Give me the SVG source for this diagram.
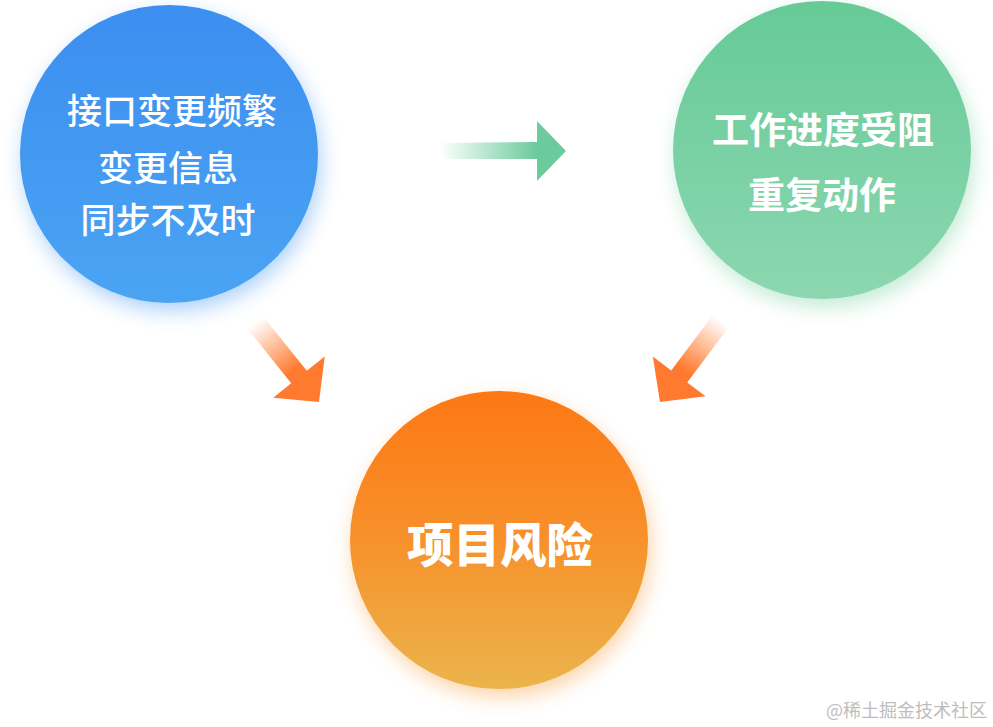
<svg xmlns="http://www.w3.org/2000/svg" width="993" height="727" viewBox="0 0 993 727">
<style>
.t{font-family:"Noto Sans CJK SC","Liberation Sans",sans-serif;fill:#fff;text-anchor:middle}
.b{font-size:35px;font-weight:500}
.g{font-size:37px;font-weight:700}
.o{font-size:46.5px;font-weight:900}
.wm{font-family:"Noto Sans CJK SC",sans-serif;font-size:18px;fill:#bdbdbd}
</style>
<defs>
<linearGradient id="gb" x1="0" y1="0" x2="0" y2="1"><stop offset="0" stop-color="#3c8ef0"/><stop offset="1" stop-color="#4aa4f3"/></linearGradient>
<linearGradient id="gg" x1="0" y1="0" x2="0" y2="1"><stop offset="0" stop-color="#66ca97"/><stop offset="1" stop-color="#8cd7b0"/></linearGradient>
<linearGradient id="go" x1="0" y1="0" x2="0" y2="1"><stop offset="0" stop-color="#fd7814"/><stop offset="0.5" stop-color="#f7912b"/><stop offset="1" stop-color="#ebb44c"/></linearGradient>
<linearGradient id="ag" gradientUnits="userSpaceOnUse" x1="-126" y1="0" x2="-30" y2="0"><stop offset="0" stop-color="#6ccb9c" stop-opacity="0"/><stop offset="1" stop-color="#6ccb9c"/></linearGradient>
<linearGradient id="ao" gradientUnits="userSpaceOnUse" x1="-102" y1="0" x2="-40" y2="0"><stop offset="0" stop-color="#ff7a2e" stop-opacity="0"/><stop offset="1" stop-color="#ff7a2e"/></linearGradient>
<filter id="sh" x="-30%" y="-30%" width="160%" height="160%"><feGaussianBlur stdDeviation="10"/></filter>
</defs>
<g id="node-blue">
<circle cx="172" cy="162" r="149" fill="#4a9cf2" opacity="0.45" filter="url(#sh)"/>
<circle cx="169" cy="154" r="149" fill="url(#gb)"/>
<text class="t b" x="172" y="124">接口变更频繁</text>
<text class="t b" x="168" y="181">变更信息</text>
<text class="t b" x="168" y="233">同步不及时</text>
</g>
<g id="node-green">
<circle cx="825" cy="158" r="149" fill="#7ad2a5" opacity="0.45" filter="url(#sh)"/>
<circle cx="822" cy="150" r="149" fill="url(#gg)"/>
<text class="t g" x="823" y="144">工作进度受阻</text>
<text class="t g" x="822" y="209">重复动作</text>
</g>
<g id="node-orange">
<circle cx="502" cy="548" r="149" fill="#f9a040" opacity="0.45" filter="url(#sh)"/>
<circle cx="499" cy="540" r="149" fill="url(#go)"/>
<text class="t o" x="500" y="562">项目风险</text>
</g>
<g id="connectors">
<polygon transform="translate(566,151)" fill="url(#ag)" points="-126,-8 -29,-9 -29,-30 0,0 -29,30 -29,8 -126,8"/>
<polygon transform="translate(319,402) rotate(51.3)" fill="url(#ao)" points="-102,-10 -32,-10 -32,-33 0,0 -32,33 -32,10 -102,10"/>
<polygon transform="translate(660,402) rotate(126.9)" fill="url(#ao)" points="-102,-10 -32,-10 -32,-33 0,0 -32,33 -32,10 -102,10"/>
</g>
<text class="wm" x="826" y="717">@稀土掘金技术社区</text>
</svg>
